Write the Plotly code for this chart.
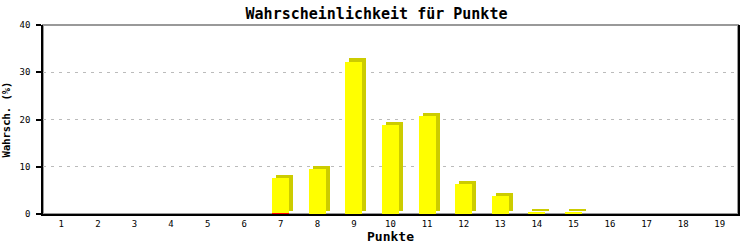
import plotly.graph_objects as go

categories = list(range(1, 20))
total_pct = [0, 0, 0, 0, 0, 0, 7.6, 9.5, 32.2, 18.8, 20.7, 6.35, 3.8, 0.4, 0.25, 0, 0, 0, 0]
red_pct = [0, 0, 0, 0, 0, 0, 0.25, 0, 0, 0, 0, 0, 0, 0, 0, 0, 0, 0, 0]
yellow_pct = [t - r for t, r in zip(total_pct, red_pct)]
tick_labels = [str(c) for c in categories]

BAR_W = 0.465
DX = 0.109   # 3D depth (category units)
DY = 0.74    # 3D depth (value units)

mono = "DejaVu Sans Mono"

fig = go.Figure()
# 3D side/top face (shadow)
fig.add_trace(go.Bar(
    x=categories, y=[t if t > 0 else 0 for t in total_pct],
    base=[DY if t > 0 else 0 for t in total_pct],
    width=BAR_W, offset=-BAR_W / 2 + DX,
    marker=dict(color="#cccc00", line=dict(width=0)),
    hoverinfo="skip", showlegend=False))
# red front segment
fig.add_trace(go.Bar(
    x=categories, y=red_pct, base=[0] * len(categories),
    width=BAR_W, offset=-BAR_W / 2,
    marker=dict(color="#ff0000", line=dict(width=0)),
    showlegend=False))
# yellow front segment
fig.add_trace(go.Bar(
    x=categories, y=yellow_pct, base=red_pct,
    width=BAR_W, offset=-BAR_W / 2,
    marker=dict(color="#ffff00", line=dict(width=0)),
    showlegend=False))

fig.update_layout(
    width=753, height=250,
    margin=dict(l=43, r=15, t=25, b=36, autoexpand=False),
    paper_bgcolor="white", plot_bgcolor="white",
    barmode="overlay", bargap=0,
    title=dict(text="<b>Wahrscheinlichkeit für Punkte</b>",
               font=dict(family=mono, size=15, color="black"),
               x=0.5, xanchor="center", y=1 - 14 / 250, yanchor="middle"),
    shapes=[dict(type="rect", xref="paper", yref="paper", x0=0, y0=0, x1=1, y1=1,
                 line=dict(color="#999999", width=2), layer="below")],
)
fig.update_xaxes(
    automargin=False,
    range=[0.5, 19.5], tickmode="array", tickvals=categories, ticktext=tick_labels,
    showline=True, linecolor="black", linewidth=2, ticks="", showgrid=False,
    zeroline=False, tickfont=dict(family=mono, size=9, color="black"),
    ticklabelstandoff=0,
    title=dict(text="<b>Punkte</b>", font=dict(family=mono, size=13, color="black"), standoff=2),
)
fig.update_yaxes(
    automargin=False,
    range=[0, 40], tickvals=[0, 10, 20, 30, 40],
    showline=True, linecolor="black", linewidth=1.5, mirror=True,
    ticks="outside", ticklen=5, tickcolor="black", tickwidth=1.5,
    showgrid=True, gridcolor="#bbbbbb", griddash="3px,5px", gridwidth=1,
    zeroline=False, tickfont=dict(family=mono, size=9, color="black"),
    ticklabelstandoff=4,
    title=dict(text="<b>Wahrsch. (%)</b>", font=dict(family=mono, size=10.5, color="black"), standoff=12),
)

fig.write_html("out.html")
